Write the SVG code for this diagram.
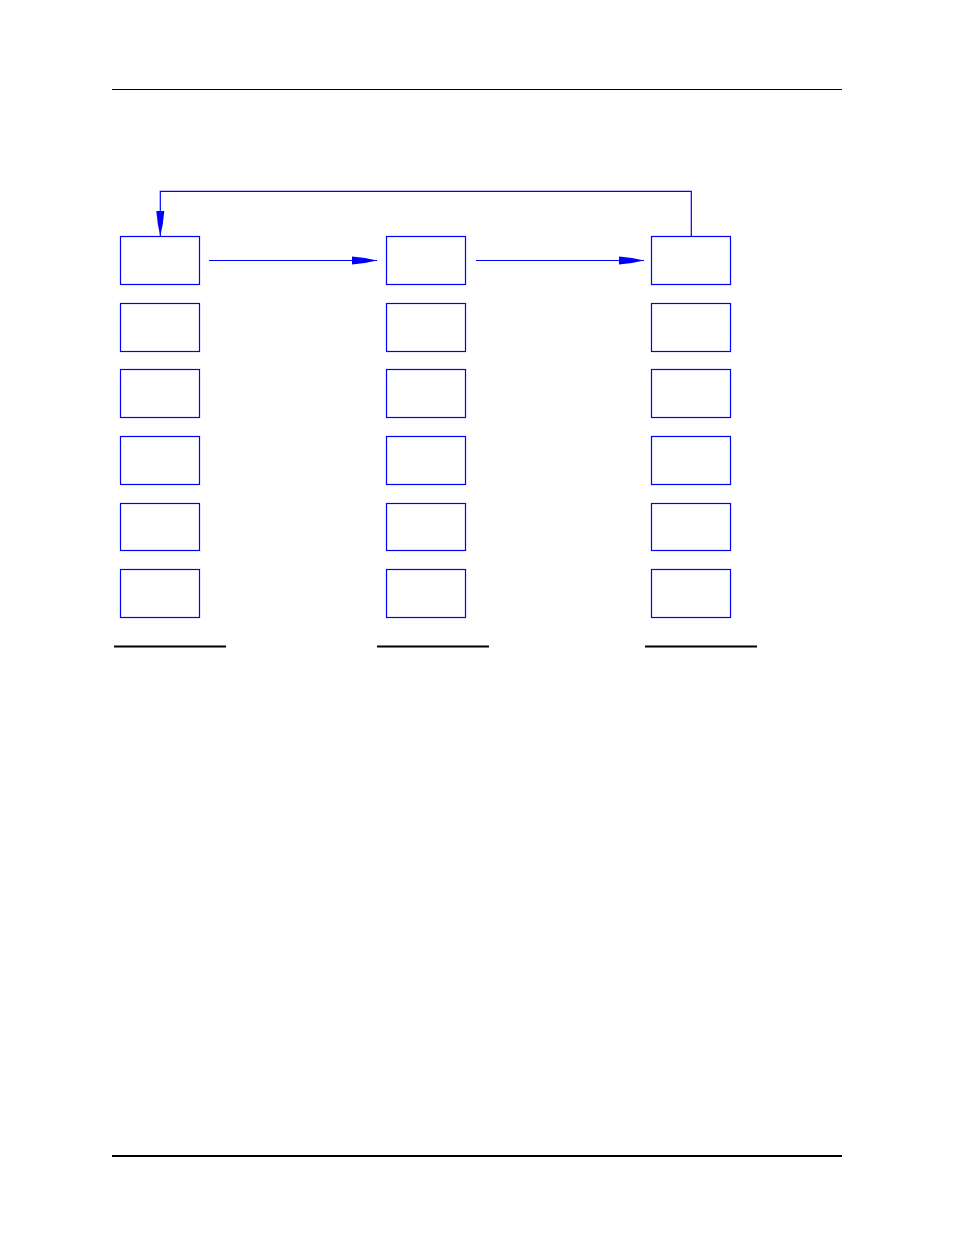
<svg xmlns="http://www.w3.org/2000/svg" width="954" height="1235" viewBox="0 0 954 1235">
<defs>
<style>
.box{fill:#fff;stroke:#0000ff;stroke-width:1.2}
.conn{fill:none;stroke:#0000ff;stroke-width:1.2}
.rule{stroke:#000;fill:none}
</style>
<marker id="ah" markerUnits="userSpaceOnUse" markerWidth="26" markerHeight="10" refX="25" refY="5" orient="auto" viewBox="0 0 26 10">
<polygon points="0,1 13,2.5 25,5 13,7.5 0,9" fill="#0000ff"/>
</marker>
</defs>
<rect width="954" height="1235" fill="#fff"/>
<line class="rule" x1="112" y1="89.5" x2="842" y2="89.5" stroke-width="1.2"/>
<line class="rule" x1="112" y1="1156" x2="842" y2="1156" stroke-width="2"/>
<g id="connectors">
<line class="conn" x1="209" y1="260.5" x2="377" y2="260.5" marker-end="url(#ah)"/>
<line class="conn" x1="476" y1="260.5" x2="644" y2="260.5" marker-end="url(#ah)"/>
<polyline class="conn" points="691.3,236.5 691.3,191.3 160.3,191.3 160.3,236" marker-end="url(#ah)"/>
</g>
<g id="col1">
<g id="n1_1"><rect class="box" x="120.5" y="236.5" width="79" height="48"/></g>
<g id="n1_2"><rect class="box" x="120.5" y="303.5" width="79" height="48"/></g>
<g id="n1_3"><rect class="box" x="120.5" y="369.5" width="79" height="48"/></g>
<g id="n1_4"><rect class="box" x="120.5" y="436.5" width="79" height="48"/></g>
<g id="n1_5"><rect class="box" x="120.5" y="503.5" width="79" height="47"/></g>
<g id="n1_6"><rect class="box" x="120.5" y="569.5" width="79" height="48"/></g>
</g>
<g id="col2">
<g id="n2_1"><rect class="box" x="386.5" y="236.5" width="79" height="48"/></g>
<g id="n2_2"><rect class="box" x="386.5" y="303.5" width="79" height="48"/></g>
<g id="n2_3"><rect class="box" x="386.5" y="369.5" width="79" height="48"/></g>
<g id="n2_4"><rect class="box" x="386.5" y="436.5" width="79" height="48"/></g>
<g id="n2_5"><rect class="box" x="386.5" y="503.5" width="79" height="47"/></g>
<g id="n2_6"><rect class="box" x="386.5" y="569.5" width="79" height="48"/></g>
</g>
<g id="col3">
<g id="n3_1"><rect class="box" x="651.5" y="236.5" width="79" height="48"/></g>
<g id="n3_2"><rect class="box" x="651.5" y="303.5" width="79" height="48"/></g>
<g id="n3_3"><rect class="box" x="651.5" y="369.5" width="79" height="48"/></g>
<g id="n3_4"><rect class="box" x="651.5" y="436.5" width="79" height="48"/></g>
<g id="n3_5"><rect class="box" x="651.5" y="503.5" width="79" height="47"/></g>
<g id="n3_6"><rect class="box" x="651.5" y="569.5" width="79" height="48"/></g>
</g>
<g id="underlines">
<line class="rule" x1="114" y1="646.5" x2="226" y2="646.5" stroke-width="2"/>
<line class="rule" x1="377" y1="646.5" x2="489" y2="646.5" stroke-width="2"/>
<line class="rule" x1="645" y1="646.5" x2="757" y2="646.5" stroke-width="2"/>
</g>
</svg>
